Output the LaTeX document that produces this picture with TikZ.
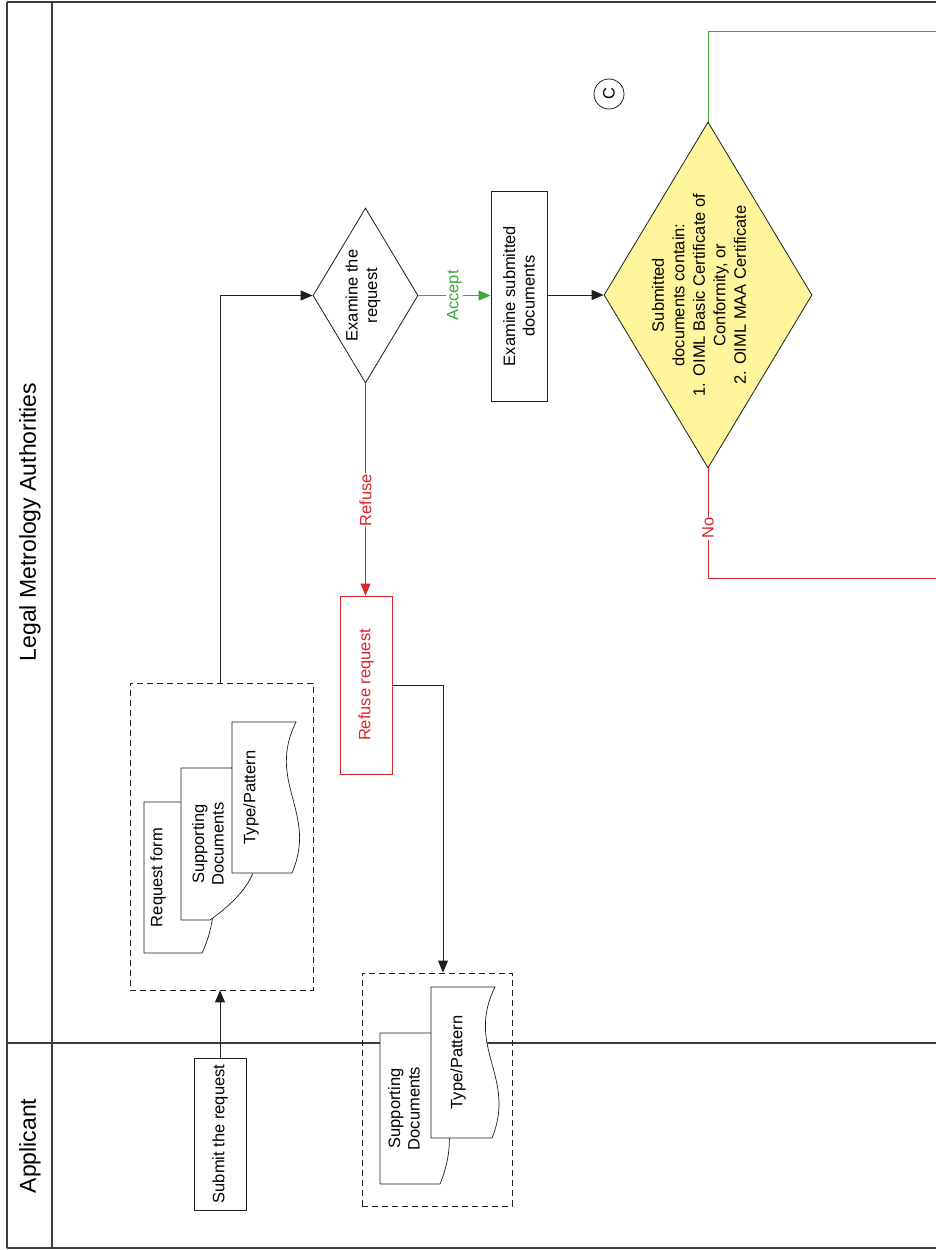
\documentclass[tikz,border=0pt]{standalone}
\usepackage{fontspec}
\setmainfont{Liberation Sans}
\usetikzlibrary{shapes.geometric,arrows.meta}
\definecolor{framec}{HTML}{3C3C3C}
\definecolor{refred}{HTML}{D8262C}
\definecolor{accgreen}{HTML}{3DA83A}
\definecolor{dyellow}{HTML}{FFF59D}
\definecolor{linec}{HTML}{1E1E1E}
\newcommand\docshape[7]{%
  \draw[docline] (#4,#2) -- (#1,#2) -- (#1,#3) -- (#5,#3)
    .. controls (#7,{#2+0.6*(#3-#2)}) and (#6,{#2+0.4*(#3-#2)}) .. (#4,#2) -- cycle;}
\begin{document}
\begin{tikzpicture}[x=1pt,y=-1pt,
  framel/.style={draw=framec,line width=1.8pt},
  lanetitle/.style={rotate=90,font=\fontsize{23}{26}\selectfont,inner sep=0pt},
  txt/.style={rotate=90,align=center,font=\fontsize{16.5}{19.5}\selectfont,inner sep=0pt},
  boxn/.style={draw=linec,line width=0.8pt,fill=white,inner sep=0pt},
  dia/.style={diamond,draw=linec,line width=0.8pt,inner sep=0pt,aspect=0.6},
  grp/.style={draw=linec,line width=0.8pt,dash pattern=on 6pt off 4pt,inner sep=0pt},
  docline/.style={draw=linec,line width=0.7pt,fill=white},
  conn/.style={draw=linec,line width=0.9pt},
  arr/.style={-{Triangle[length=12pt,width=10pt]}},
  lbl/.style={rotate=90,font=\fontsize{16.5}{19}\selectfont,fill=white,inner sep=1pt}]
\useasboundingbox (0,0) rectangle (936,1250);
% pool frame
\draw[framel] (7,2) -- (936,2);
\draw[framel] (7,1248) -- (936,1248);
\draw[framel] (7,2) -- (7,1248);
\draw[framel] (52,2) -- (52,1248);
\draw[framel] (7,1043) -- (936,1043);
\node[lanetitle] (lma) at (30,522) {Legal Metrology Authorities};
\node[lanetitle] (app) at (30,1146) {Applicant};
% group boxes
\node[grp,minimum width=183pt,minimum height=307pt] (g1) at (221.5,836.5) {};
\node[grp,minimum width=150pt,minimum height=233pt] (g2) at (437,1089.5) {};
% documents group 1
\docshape{144}{802}{953}{215}{202}{195}{230}
\node[txt] (rf) at (158,877.5) {Request form};
\docshape{181}{768}{920}{255}{210}{235}{295}
\node[txt] (sd1) at (208,844) {Supporting\\Documents};
\docshape{232}{722}{873}{296}{292}{266}{318}
\node[txt] (tp1) at (251,797.5) {Type/Pattern};
% documents group 2
\docshape{380}{1033}{1184}{450}{440}{430}{465}
\node[txt] (sd2) at (404,1108.5) {Supporting\\Documents};
\docshape{431}{987}{1138}{495}{492}{465}{517}
\node[txt] (tp2) at (458,1062.5) {Type/Pattern};
% process nodes
\node[boxn,minimum width=52pt,minimum height=152pt] (submit) at (220,1134) {};
\node[txt] (submitt) at (submit) {Submit the request};
\node[dia,minimum width=105pt,minimum height=175pt] (d1) at (365.5,295.5) {};
\node[txt] (d1t) at (363,295.5) {Examine the\\request};
\node[boxn,minimum width=56pt,minimum height=210pt] (exs) at (519,296) {};
\node[txt] (exst) at (exs) {Examine submitted\\documents};
\node[boxn,draw=refred,minimum width=52pt,minimum height=178pt] (refuse) at (366,685) {};
\node[txt,text=refred] (refuset) at (refuse) {Refuse request};
\node[dia,fill=dyellow,minimum width=208pt,minimum height=346pt] (d2) at (708,295) {};
\node[txt,font=\fontsize{16.5}{20.5}\selectfont] (d2t) at (699,295) {Submitted\\documents contain:\\1. OIML Basic Certificate of\\Conformity, or\\2. OIML MAA Certificate};
\node[circle,draw=linec,line width=0.8pt,minimum size=30pt,inner sep=0pt] (c) at (609,94) {};
\node[txt] (ct) at (c) {C};
% connector end points
\coordinate (rj) at (443,685);
\coordinate (gend) at (936,31);
\coordinate (rend) at (936,578);
% connectors
\draw[conn,arr] (submit.north) -- (submit.north |- g1.south);
\draw[conn,arr] (submit.north |- g1.north) |- (d1.west);
\draw[conn,draw=accgreen,arr] (d1.east) -- node[lbl,text=accgreen] (acc) {Accept} (d1.east -| exs.west);
\draw[conn,arr] (exs.east |- d2.west) -- (d2.west);
\draw[conn,draw=refred,arr] (d1.south) -- node[lbl,text=refred,pos=0.55] (ref) {Refuse} (d1.south |- refuse.north);
\draw[conn,arr] (refuse.east) -- (rj) -- (rj |- g2.north);
\draw[conn,draw=accgreen] (d2.north) |- (gend);
\draw[conn,draw=refred] (d2.south) -- node[lbl,text=refred,pos=0.545] (no) {No} (d2.south |- rend) -- (rend);
\end{tikzpicture}
\end{document}
